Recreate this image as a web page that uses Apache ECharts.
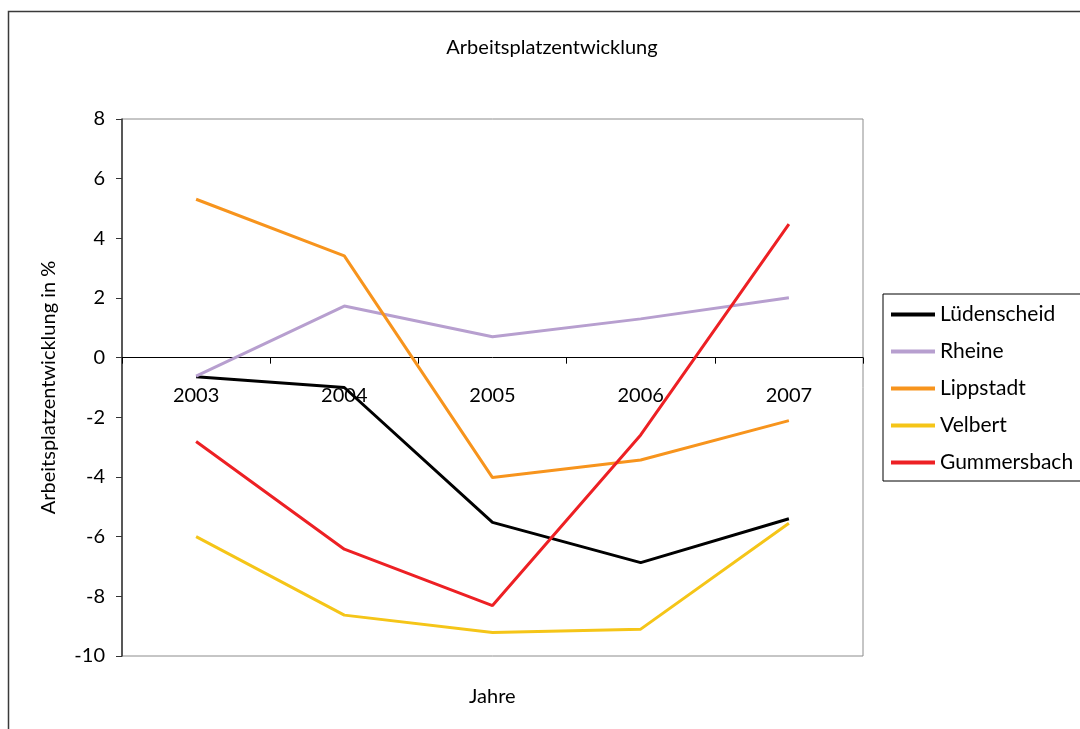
<!DOCTYPE html>
<html>
<head>
<meta charset="utf-8">
<script src="https://cdn.jsdelivr.net/npm/echarts@6/dist/echarts.min.js"></script>
<style>
html,body{margin:0;padding:0;background:#fff;}
#chart{width:1080px;height:729px;}
</style>
</head>
<body>
<div id="chart"></div>
<script>
const years = ['2003', '2004', '2005', '2006', '2007'];
const luedenscheid = [-0.64, -1.0, -5.52, -6.87, -5.4];
const rheine = [-0.62, 1.73, 0.70, 1.30, 2.01];
const lippstadt = [5.31, 3.41, -4.02, -3.43, -2.11];
const velbert = [-6.0, -8.63, -9.21, -9.1, -5.55];
const gummersbach = [-2.81, -6.42, -8.31, -2.59, 4.48];
const seriesNames = ['Lüdenscheid', 'Rheine', 'Lippstadt', 'Velbert', 'Gummersbach'];
const seriesColors = ['#000000', '#b79fcf', '#f7941d', '#f5c518', '#ed2024'];
const yTicks = { min: -10, max: 8, interval: 2 };

const FONT = 'Lato';
const allData = [luedenscheid, rheine, lippstadt, velbert, gummersbach];

const GRID_H = 537;
// place the category axis (line, ticks, labels) at value 0 of the y scale
const zeroOffset = -GRID_H * (0 - yTicks.min) / (yTicks.max - yTicks.min);

const chart = echarts.init(document.getElementById('chart'), null, { renderer: 'canvas' });
chart.setOption({
  backgroundColor: '#ffffff',
  animation: false,
  textStyle: { fontFamily: FONT, color: '#000' },
  graphic: [{
    type: 'rect',
    shape: { x: 8.5, y: 11.5, width: 1200, height: 900 },
    style: { fill: 'none', stroke: '#3a3a3a', lineWidth: 1.5 },
    silent: true,
    z: -10
  }, {
    type: 'text',
    left: 469,
    top: 687,
    style: { text: 'Jahre', fontFamily: FONT, fontSize: 20, fill: '#000' },
    silent: true
  }],
  title: {
    text: 'Arbeitsplatzentwicklung',
    left: 552,
    top: 38,
    textAlign: 'center',
    padding: 0,
    textStyle: { fontFamily: FONT, fontSize: 20, fontWeight: 'normal', color: '#000' }
  },
  legend: {
    orient: 'vertical',
    left: 883,
    top: 294,
    padding: [10, 60, 8, 8],
    itemGap: 16,
    itemWidth: 44,
    itemHeight: 4,
    icon: 'rect',
    borderColor: '#000',
    borderWidth: 1,
    textStyle: { fontFamily: FONT, fontSize: 21, color: '#000' },
    data: seriesNames
  },
  grid: {
    left: 122,
    top: 119,
    width: 741,
    height: GRID_H,
    show: true,
    borderColor: '#8c8c8c',
    borderWidth: 1,
    containLabel: false,
    outerBoundsMode: 'none'
  },
  xAxis: {
    type: 'category',
    data: years,
    position: 'bottom',
    offset: zeroOffset,
    boundaryGap: true,
    axisLine: { onZero: false, lineStyle: { color: '#000', width: 1 } },
    axisTick: { show: true, length: 6, lineStyle: { color: '#000' } },
    axisLabel: { fontFamily: FONT, fontSize: 20, color: '#000', margin: 28 }
  },
  yAxis: {
    type: 'value',
    min: yTicks.min,
    max: yTicks.max,
    interval: yTicks.interval,
    axisLine: { show: true, lineStyle: { color: '#333', width: 1.5 } },
    axisTick: { show: true, length: 6, lineStyle: { color: '#333' } },
    splitLine: { show: false },
    axisLabel: { fontFamily: FONT, fontSize: 20, color: '#000', margin: 17 },
    name: 'Arbeitsplatzentwicklung in %',
    nameLocation: 'middle',
    nameRotate: 90,
    nameGap: 63,
    nameTextStyle: { fontFamily: FONT, fontSize: 20, color: '#000' }
  },
  series: seriesNames.map((name, i) => ({
    name: name,
    type: 'line',
    data: allData[i],
    symbol: 'none',
    showSymbol: false,
    color: seriesColors[i],
    lineStyle: { color: seriesColors[i], width: 3 },
    itemStyle: { color: seriesColors[i] }
  }))
});
</script>
</body>
</html>
